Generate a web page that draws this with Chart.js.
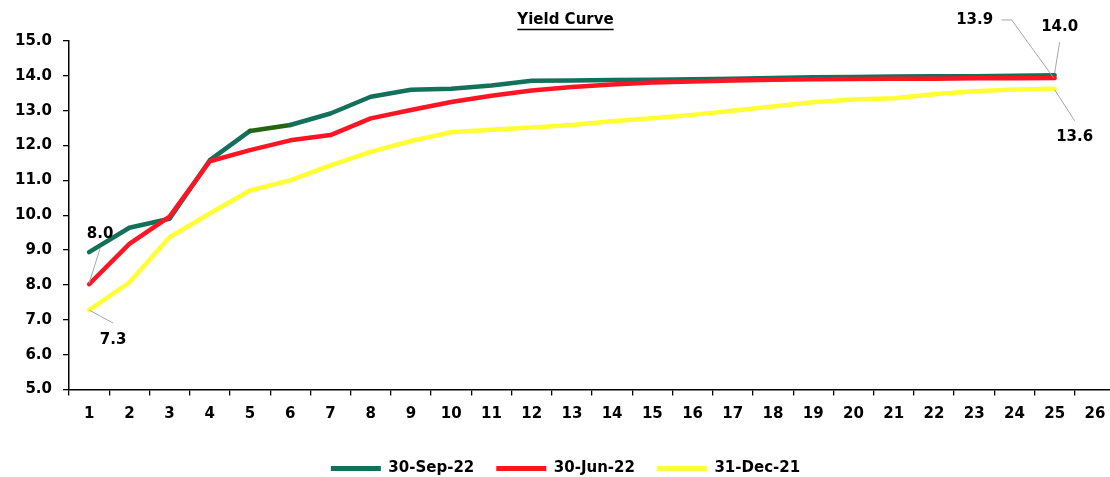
<!DOCTYPE html>
<html>
<head>
<meta charset="utf-8">
<script src="https://cdn.jsdelivr.net/npm/chart.js@4.4.1/dist/chart.umd.min.js"></script>
<style>
  html, body { margin: 0; padding: 0; overflow: hidden; background: #fff; width: 1110px; height: 477px; }
  #wrap { position: absolute; left: 0; top: 0; width: 1116px; height: 486px; }
</style>
</head>
<body>
<div id="wrap"><canvas id="c" width="1116" height="486"></canvas></div>
<script>
const categories = ['1','2','3','4','5','6','7','8','9','10','11','12','13','14','15','16','17','18','19','20','21','22','23','24','25','26'];
const seriesNames = ['30-Sep-22', '30-Jun-22', '31-Dec-21'];
const sep22 = [8.94, 9.64, 9.90, 11.58, 12.42, 12.59, 12.92, 13.40, 13.60, 13.63, 13.72, 13.86, 13.87, 13.88, 13.89, 13.90, 13.92, 13.94, 13.96, 13.97, 13.98, 13.99, 13.99, 14.00, 14.02];
const jun22 = [8.02, 9.18, 9.96, 11.55, 11.87, 12.15, 12.30, 12.78, 13.02, 13.25, 13.43, 13.58, 13.68, 13.75, 13.81, 13.84, 13.87, 13.89, 13.90, 13.91, 13.92, 13.92, 13.93, 13.93, 13.94];
const dec21 = [7.28, 8.07, 9.37, 10.05, 10.71, 11.00, 11.43, 11.82, 12.13, 12.38, 12.45, 12.52, 12.59, 12.70, 12.78, 12.88, 13.00, 13.12, 13.24, 13.32, 13.36, 13.47, 13.56, 13.61, 13.63];
const yTicks = [5, 6, 7, 8, 9, 10, 11, 12, 13, 14, 15];
// which points carry a value label: [datasetIndex, pointIndex]
const labelledPoints = [[1, 0], [2, 0], [1, 24], [0, 24], [2, 24]];

const FONT = '"DejaVu Sans", sans-serif';
const GREEN = '#13705A', RED = '#FF1424', YELLOW = '#FFFF33';

// label placement (offsets from the data point, px)
const labelLayout = {
  '1-0':  { text: [11, -50], leader: [[0, -1], [11, -36]] },
  '2-0':  { text: [24, 30],  leader: [[0, 0], [24, 13]] },
  '1-24': { text: [-80, -58], leader: [[-1, 0], [-43, -58], [-53, -58]] },
  '0-24': { text: [5, -48],  leader: [[0, -2], [5, -33]] },
  '2-24': { text: [20, 48],  leader: [[0, 1], [20, 32]] }
};

const valueLabels = {
  id: 'valueLabels',
  afterDatasetsDraw(chart) {
    const ctx = chart.ctx;
    ctx.save();
    labelledPoints.forEach(([di, pi]) => {
      const meta = chart.getDatasetMeta(di);
      const pt = meta.data[pi];
      const lay = labelLayout[di + '-' + pi];
      const v = chart.data.datasets[di].data[pi];
      ctx.strokeStyle = '#A6A6A6';
      ctx.lineWidth = 1;
      ctx.beginPath();
      lay.leader.forEach(([dx, dy], k) => {
        if (k === 0) ctx.moveTo(pt.x + dx, pt.y + dy); else ctx.lineTo(pt.x + dx, pt.y + dy);
      });
      ctx.stroke();
      ctx.fillStyle = '#000';
      ctx.font = 'bold 15px ' + FONT;
      ctx.textAlign = 'center';
      ctx.textBaseline = 'middle';
      ctx.fillText(v.toFixed(1), pt.x + lay.text[0], pt.y + lay.text[1]);
    });
    ctx.restore();
  }
};

const titleUnderline = {
  id: 'titleUnderline',
  afterDraw(chart) {
    const tb = chart.titleBlock;
    if (!tb) return;
    const ctx = chart.ctx;
    ctx.save();
    ctx.font = 'bold 15px ' + FONT;
    const w = ctx.measureText(chart.options.plugins.title.text).width;
    const cx = (tb.left + tb.right) / 2;
    ctx.strokeStyle = '#000';
    ctx.lineWidth = 1.4;
    ctx.beginPath();
    ctx.moveTo(cx - w / 2, 29.5);
    ctx.lineTo(cx + w / 2, 29.5);
    ctx.stroke();
    ctx.restore();
  }
};

const common = { fill: false, tension: 0, pointRadius: 0, pointHoverRadius: 0, borderWidth: 4.5, borderCapStyle: 'round', borderJoinStyle: 'round' };

new Chart(document.getElementById('c'), {
  type: 'line',
  data: {
    labels: categories,
    datasets: [
      Object.assign({ label: seriesNames[0], data: sep22, borderColor: GREEN, backgroundColor: GREEN, order: 3,
        segment: { borderColor: c => c.p0DataIndex === 4 ? '#22660F' : undefined } }, common),
      Object.assign({ label: seriesNames[1], data: jun22, borderColor: RED, backgroundColor: RED, order: 2 }, common),
      Object.assign({ label: seriesNames[2], data: dec21, borderColor: YELLOW, backgroundColor: YELLOW, order: 1 }, common)
    ]
  },
  options: {
    responsive: false,
    animation: false,
    events: [],
    layout: { padding: { left: 16, right: 1, top: 0, bottom: 0 } },
    plugins: {
      title: {
        display: true, text: 'Yield Curve', color: '#000',
        font: { family: FONT, size: 15, weight: 'bold' },
        padding: { top: 11, bottom: 12 }
      },
      legend: {
        position: 'bottom',
        labels: {
          color: '#000',
          font: { family: FONT, size: 15, weight: 'bold' },
          boxWidth: 50, boxHeight: 5, padding: 22,
          sort: (a, b) => a.datasetIndex - b.datasetIndex,
          generateLabels(chart) {
            const items = Chart.defaults.plugins.legend.labels.generateLabels(chart);
            items.forEach(i => { i.lineWidth = 0; i.fillStyle = i.strokeStyle; });
            return items;
          }
        }
      },
      tooltip: { enabled: false }
    },
    scales: {
      x: {
        type: 'category',
        offset: true,
        grid: { display: true, offset: true, drawOnChartArea: false, drawTicks: true, tickLength: 6, color: '#000', lineWidth: 1.3 },
        border: { display: true, color: '#000', width: 1.5 },
        ticks: { color: '#000', font: { family: FONT, size: 15, weight: 'bold' }, padding: 10, maxRotation: 0, autoSkip: false },
        afterFit(s) { s.height = 49.5; }
      },
      y: {
        min: yTicks[0], max: yTicks[yTicks.length - 1],
        afterBuildTicks(s) { s.ticks = yTicks.map(v => ({ value: v })); },
        grid: { display: true, drawOnChartArea: false, drawTicks: true, tickLength: 6, color: '#000', lineWidth: 1.3 },
        border: { display: true, color: '#000', width: 1.5 },
        ticks: { color: '#000', font: { family: FONT, size: 15, weight: 'bold' }, padding: 11, callback: v => Number(v).toFixed(1) },
        afterFit(s) { s.width = 53; }
      }
    }
  },
  plugins: [valueLabels, titleUnderline]
});
</script>
</body>
</html>
